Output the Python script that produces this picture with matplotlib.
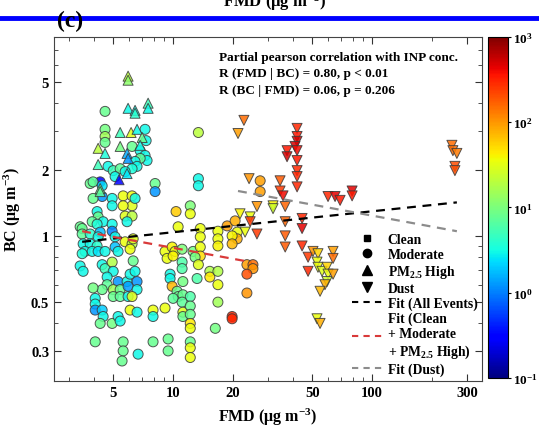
import numpy as np
import matplotlib

matplotlib.use("Agg")
import matplotlib.pyplot as plt
from matplotlib.colors import LogNorm
from matplotlib.lines import Line2D
from matplotlib.ticker import FixedLocator, NullFormatter

plt.rcParams["font.family"] = ["Liberation Serif", "DejaVu Serif"]
plt.rcParams["font.weight"] = "bold"
plt.rcParams["mathtext.fontset"] = "custom"
plt.rcParams["mathtext.rm"] = "Liberation Serif:bold"
plt.rcParams["mathtext.bf"] = "Liberation Serif:bold"
plt.rcParams["mathtext.it"] = "Liberation Serif:bold:italic"

# PM2.5 high events (FMD, BC, INP conc.)
pm_fmd = [5.94, 5.94, 5.94, 6.44, 6.44, 7.49, 7.49, 5.42, 6.15, 6.59, 6.99,
          5.42, 4.20, 4.55, 6.83, 5.87, 5.94, 4.20, 5.87, 5.35, 4.30, 4.30]
pm_bc = [5.32, 5.10, 3.80, 3.72, 3.61, 4.01, 3.80, 2.95, 2.95, 3.05, 2.80,
         2.55, 2.50, 2.37, 2.58, 2.37, 2.25, 2.11, 1.92, 1.80, 1.64, 1.59]
pm_inp = [20, 12, 3, 3, 4, 5, 3, 5, 30, 3, 8,
          9, 20, 3.5, 3, 1.5, 1.2, 5, 2.5, 0.3, 8, 7]

# moderate events
mod_fmd = [4.55, 4.55, 4.55, 4.55, 7.23, 7.32, 6.22, 6.83, 7.23, 7.40, 6.83,
           6.44, 6.59, 6.22, 4.71, 5.00, 5.42, 5.74, 5.11, 4.30, 3.83, 3.96,
           4.40, 8.12, 8.12, 5.61, 6.22, 6.22, 5.61, 5.74, 6.22, 6.44, 4.94,
           4.94, 4.40, 3.96, 4.15, 4.20, 4.45, 4.94, 3.92, 3.41, 5.87,
           3.49, 3.49, 4.15, 4.94, 4.30, 3.83, 4.20, 3.53, 3.83, 4.15, 3.61,
           3.92, 4.20, 4.55, 3.49, 5.11, 5.11, 5.29, 5.74, 6.22, 6.08, 6.30,
           3.41, 3.53, 4.40, 4.55, 4.94, 5.00, 4.66, 4.66, 4.40, 3.96, 5.29,
           5.87, 6.08, 6.44, 6.30, 6.59, 5.00, 5.42, 5.94, 6.59, 5.00, 5.42,
           5.94, 6.22, 4.06, 4.06, 4.06, 4.40, 4.45, 4.30, 4.94, 5.29, 5.42,
           6.08, 6.59, 7.93, 7.93, 4.06, 5.61, 7.93, 5.61, 5.54, 6.67,
           13.4, 13.4, 13.4, 27.4, 27.4, 12.2, 12.2, 10.35, 10.6, 13.7, 13.7,
           16.8, 18.7, 20.5, 21.0, 21.0, 19.8, 19.8, 16.8, 16.8, 9.11, 9.89,
           10.23, 9.33, 10.0, 11.1, 12.6, 13.7, 13.7, 12.9, 13.4, 11.1, 11.1,
           9.66, 9.66, 13.2, 15.3, 15.3, 16.8, 16.8, 23.5, 25.2, 25.2, 23.5,
           23.5, 9.89, 11.2, 10.47, 10.6, 10.0, 11.2, 12.2, 11.1, 11.2, 12.2,
           11.2, 12.2, 12.2, 12.2, 16.3, 16.8, 9.11, 19.8, 19.8, 9.44, 9.44,
           12.2, 12.2, 12.2]
mod_bc = [3.68, 3.05, 2.83, 2.66, 3.05, 2.71, 2.55, 2.44, 2.32, 2.20, 2.25,
          2.18, 2.07, 2.02, 2.07, 1.98, 2.02, 1.96, 1.86, 1.76, 1.73, 1.76,
          1.69, 1.73, 1.59, 1.52, 1.52, 1.37, 1.37, 1.23, 1.23, 1.48, 1.48,
          1.37, 1.51, 1.48, 1.29, 1.22, 1.16, 1.13, 1.16, 1.10, 1.16,
          1.08, 1.02, 1.13, 1.05, 1.04, 1.02, 0.99, 0.92, 0.92, 0.90, 0.85,
          0.85, 0.85, 0.85, 0.83, 0.99, 0.89, 0.85, 0.94, 0.92, 0.87, 0.97,
          0.73, 0.69, 0.74, 0.71, 0.76, 0.69, 0.65, 0.60, 0.57, 0.58, 0.62,
          0.62, 0.67, 0.69, 0.77, 0.62, 0.57, 0.57, 0.59, 0.57, 0.53, 0.53,
          0.53, 0.53, 0.52, 0.49, 0.46, 0.46, 0.43, 0.40, 0.40, 0.43, 0.41,
          0.46, 0.45, 0.46, 0.43, 0.33, 0.33, 0.33, 0.30, 0.27, 0.29,
          2.95, 1.82, 1.69, 1.78, 1.59, 1.37, 1.26, 1.29, 1.10, 1.08, 0.99,
          1.05, 1.11, 1.17, 1.04, 0.97, 1.00, 0.92, 0.97, 0.90, 0.85, 0.89,
          0.85, 0.79, 0.81, 0.87, 0.85, 0.89, 0.81, 0.80, 0.74, 0.76, 0.71,
          0.67, 0.64, 0.64, 0.69, 0.65, 0.69, 0.60, 0.74, 0.74, 0.71, 0.67,
          0.55, 0.59, 0.62, 0.56, 0.53, 0.52, 0.54, 0.53, 0.50, 0.45, 0.48,
          0.43, 0.44, 0.40, 0.38, 0.38, 0.50, 0.47, 0.43, 0.42, 0.34, 0.30,
          0.33, 0.31, 0.28]
mod_inp = [8, 9, 15, 8, 3, 3, 8, 3, 3, 3, 7,
           3, 3, 3.5, 3, 5, 7, 3, 3, 0.3, 8, 7,
           2.5, 8, 1.2, 35, 35, 30, 35, 30, 20, 3, 3,
           3, 1.2, 8, 3, 8, 3, 3, 7, 8, 3,
           8, 7, 3.5, 1.0, 1.8, 4, 3, 3, 3, 4, 3,
           3, 2.5, 3, 3.5, 3, 1.8, 3, 35, 20, 35, 30,
           3, 3, 3, 5, 18, 3, 3, 7, 8, 9, 1.2,
           3, 3, 3, 8, 1.2, 15, 8, 1.3, 3, 8, 7,
           3, 30, 3, 3, 1.2, 2, 3, 8, 9, 3, 3,
           35, 3, 35, 3, 8, 8, 8, 8, 8, 3,
           20, 3, 3, 90, 90, 10, 35, 60, 35, 35, 35,
           35, 90, 80, 35, 80, 40, 70, 35, 40, 35, 40,
           35, 35, 40, 10, 9, 35, 50, 9, 30, 6, 6,
           3, 3, 6, 18, 45, 18, 35, 90, 150, 100, 200,
           100, 70, 9, 8, 8, 7, 8, 6, 7, 30, 8,
           8, 8, 45, 35, 9, 15, 35, 300, 300, 8, 8,
           8, 35, 35]

# dust events
dust_fmd = [22.7, 21.2, 24.1, 21.7, 24.4, 24.4, 26.4, 26.4, 23.0,
            42.0, 42.0, 42.0, 41.0, 42.0, 37.4, 37.4, 42.0, 42.0, 42.0, 42.0,
            34.5, 34.5, 35.7, 31.8, 31.8, 36.6, 36.6, 36.6, 36.6,
            44.5, 44.5, 44.5, 60.1, 65.2, 69.1, 79.4, 79.4,
            47.7, 47.7, 50.5, 53.5, 52.9, 53.5, 56.1, 59.4, 60.1, 59.4,
            63.7, 63.7, 63.7, 58.0, 54.8, 52.9, 54.8,
            252, 255, 267, 261, 261]
dust_bc = [3.35, 2.92, 1.82, 1.26, 1.22, 1.16, 1.36, 1.02, 1.04,
           3.08, 2.83, 2.69, 2.55, 2.44, 2.44, 2.29, 2.20, 1.98, 1.86, 1.67,
           1.78, 1.60, 1.52, 1.37, 1.33, 1.36, 1.16, 1.00, 0.89,
           1.20, 1.08, 0.90, 1.51, 1.51, 1.45, 1.60, 1.52,
           0.80, 0.69, 0.85, 0.83, 0.76, 0.72, 0.69, 0.72, 0.67, 0.62,
           0.85, 0.79, 0.67, 0.60, 0.56, 0.42, 0.40,
           2.58, 2.44, 2.37, 2.07, 1.98]
dust_inp = [150, 90, 100, 40, 35, 250, 100, 250, 35,
            300, 350, 500, 500, 400, 350, 500, 350, 300, 300, 300,
            180, 250, 400, 40, 25, 160, 160, 180, 180,
            300, 450, 300, 300, 450, 350, 450, 350,
            250, 300, 100, 55, 35, 35, 30, 55, 35, 25,
            90, 150, 90, 80, 70, 35, 80,
            150, 150, 130, 200, 200]

# power-law fits: log10(BC) = a + b*log10(FMD), over [x0, x1]
fit_all = (-0.0785, 0.0951, 3.49, 267)
fit_nondust = (0.111, -0.1654, 3.49, 23.5)
fit_dust = (0.4245, -0.1662, 21.2, 267)

fig = plt.figure(figsize=(5.39, 4.27), dpi=100)
ax = fig.add_axes([0.1002, 0.1054, 0.794, 0.806])
cax = fig.add_axes([0.9054, 0.1124, 0.037, 0.799])

norm = LogNorm(vmin=0.1, vmax=1000)
kw = dict(cmap="jet", norm=norm, s=52, edgecolors="#3a3a3a",
          linewidths=0.7, alpha=0.85, zorder=3)
sc = ax.scatter(mod_fmd, mod_bc, c=mod_inp, marker="o", **kw)
ax.scatter(pm_fmd, pm_bc, c=pm_inp, marker="^", **kw)
ax.scatter(dust_fmd, dust_bc, c=dust_inp, marker="v", **kw)


def fitline(p, **style):
    a, b, x0, x1 = p
    xs = np.logspace(np.log10(x0), np.log10(x1), 50)
    ax.plot(xs, 10 ** (a + b * np.log10(xs)), zorder=4, lw=1.6, **style)


fitline(fit_all, color="black", ls=(0, (4, 3)))
fitline(fit_nondust, color="#d93a3a", ls=(0, (4, 3)))
fitline(fit_dust, color="#8c8c8c", ls=(0, (4, 3)))

ax.set_xscale("log")
ax.set_yscale("log")
ax.set_xlim(2.52, 357)
ax.set_ylim(0.219, 8.03)
ax.xaxis.set_major_locator(FixedLocator([5, 10, 20, 50, 100, 300]))
ax.set_xticklabels(["5", "10", "20", "50", "100", "300"])
ax.yaxis.set_major_locator(FixedLocator([0.3, 0.5, 1, 2, 5]))
ax.set_yticklabels(["0.3", "0.5", "1", "2", "5"])
ax.xaxis.set_minor_formatter(NullFormatter())
ax.yaxis.set_minor_formatter(NullFormatter())
ax.tick_params(which="both", direction="in", top=True, right=True,
               labelsize=10.5, colors="#333333", labelcolor="black")
ax.tick_params(which="major", length=5, width=0.8)
ax.tick_params(which="minor", length=3, width=0.6)
for sp in ax.spines.values():
    sp.set_color("#444444")
    sp.set_linewidth(0.8)

ax.set_xlabel("FMD (μg m$^{-3}$)", fontsize=11.5, fontweight="bold",
              labelpad=5)
ax.set_ylabel("BC (μg m$^{-3}$)", fontsize=11.5, fontweight="bold",
              labelpad=6)

ax.text(0.385, 0.942, "Partial pearson correlation with INP conc.",
        transform=ax.transAxes, fontsize=9.5, fontweight="bold",
        ha="left", va="center")
ax.text(0.385, 0.895, "R (FMD | BC) = 0.80, p < 0.01",
        transform=ax.transAxes, fontsize=9.5, fontweight="bold",
        ha="left", va="center")
ax.text(0.385, 0.846, "R (BC | FMD) = 0.06, p = 0.206",
        transform=ax.transAxes, fontsize=9.5, fontweight="bold",
        ha="left", va="center")

handles = [
    Line2D([], [], ls="none", marker="s", color="black", ms=5),
    Line2D([], [], ls="none", marker="o", color="black", ms=6),
    Line2D([], [], ls="none", marker="^", color="black", ms=7),
    Line2D([], [], ls="none", marker="v", color="black", ms=7),
    Line2D([], [], color="black", ls=(0, (3, 2.5)), lw=1.5),
    Line2D([], [], color="#d93a3a", ls=(0, (3, 2.5)), lw=1.5),
    Line2D([], [], color="#8c8c8c", ls=(0, (3, 2.5)), lw=1.5),
]
labels = ["Clean", "Moderate", "PM$_{2.5}$ High", "Dust",
          "Fit (All Events)", "Fit (Clean\n+ Moderate\n+ PM$_{2.5}$ High)",
          "Fit (Dust)"]
ax.legend(handles, labels, loc="lower right", bbox_to_anchor=(1.012, -0.012),
          frameon=False, fontsize=9.8, handlelength=2.2, handletextpad=0.4,
          labelspacing=0.14, borderpad=0.2)

cb = fig.colorbar(sc, cax=cax)
cb.solids.set_alpha(1)
cb.set_ticks([0.1, 1, 10, 100, 1000])
cb.set_ticklabels(["$10^{-1}$", "$10^{0}$", "$10^{1}$", "$10^{2}$",
                   "$10^{3}$"])
cb.ax.minorticks_off()
cb.ax.tick_params(labelsize=9.5, direction="out", length=2, pad=1.5)
cb.outline.set_linewidth(0.8)

# panel label, plus the cut-off edge of the panel above
fig.text(0.106, 0.926, "(c)", fontsize=17, fontweight="bold",
         ha="left", va="bottom")
fig.text(0.51, 1 - 7 / 427, "FMD (μg m$^{-3}$)", fontsize=12,
         fontweight="bold", ha="center", va="baseline")
fig.add_artist(Line2D([0, 1], [1 - 19 / 427, 1 - 19 / 427],
                      color="#0000ff", lw=3.5, transform=fig.transFigure))

fig.savefig("out.png", dpi=100, facecolor="white")
